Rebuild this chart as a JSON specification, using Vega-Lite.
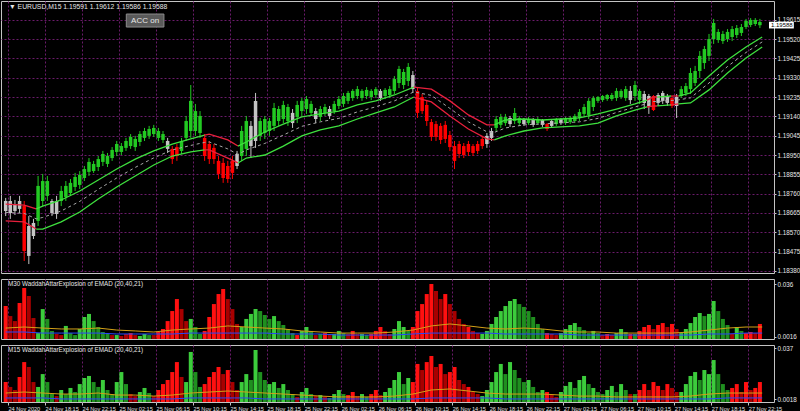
{
"$schema":"https://vega.github.io/schema/vega-lite/v6.json",
"background":"#000000",
"padding":0,
"spacing":3,
"config":{
 "font":"Liberation Sans, sans-serif",
 "view":{"stroke":"#c4c4c4","strokeWidth":1},
 "axis":{"labelColor":"#e6e6e6","labelFont":"Liberation Sans, sans-serif","labelFontSize":6.3,"gridColor":"#6a1b6a","gridDash":[2,2],"gridWidth":1,"gridOpacity":1,"tickColor":"#c4c4c4","domain":false,"title":null,"minExtent":0,"labelOverlap":false,"labelFlush":false,"tickCount":60}
},
"datasets":{
"c":[
{"t":"2020-11-24T14:00Z","o":1.18724,"h":1.18739,"l":1.18650,"c":1.18675,"s":"n","a":0.0217,"ac":"R","b":0.0138,"bc":"R"},
{"t":"2020-11-24T14:30Z","o":1.18665,"h":1.18749,"l":1.18636,"c":1.18724,"s":"n","a":0.0151,"ac":"r","b":0.0104,"bc":"r"},
{"t":"2020-11-24T15:00Z","o":1.18709,"h":1.18729,"l":1.18655,"c":1.18675,"s":"n","a":0.0118,"ac":"r","b":0.0083,"bc":"r"},
{"t":"2020-11-24T15:30Z","o":1.18685,"h":1.18749,"l":1.18665,"c":1.18724,"s":"n","a":0.0237,"ac":"R","b":0.0173,"bc":"R"},
{"t":"2020-11-24T16:00Z","o":1.18699,"h":1.18724,"l":1.18429,"c":1.18478,"s":"r","a":0.0336,"ac":"R","b":0.0276,"bc":"R"},
{"t":"2020-11-24T16:30Z","o":1.18454,"h":1.18650,"l":1.18414,"c":1.18601,"s":"n","a":0.0283,"ac":"r","b":0.0242,"bc":"r"},
{"t":"2020-11-24T17:00Z","o":1.18552,"h":1.18636,"l":1.18537,"c":1.18616,"s":"n","a":0.0138,"ac":"r","b":0.0138,"bc":"r"},
{"t":"2020-11-24T17:30Z","o":1.18626,"h":1.18847,"l":1.18601,"c":1.18798,"s":"g","a":0.0039,"ac":"G","b":0.0104,"bc":"G"},
{"t":"2020-11-24T18:00Z","o":1.18724,"h":1.18857,"l":1.18699,"c":1.18822,"s":"g","a":0.0197,"ac":"G","b":0.0193,"bc":"G"},
{"t":"2020-11-24T18:30Z","o":1.18749,"h":1.18847,"l":1.18724,"c":1.18822,"s":"g","a":0.0132,"ac":"g","b":0.0138,"bc":"g"},
{"t":"2020-11-24T19:00Z","o":1.18724,"h":1.18734,"l":1.18650,"c":1.18665,"s":"n","a":0.0053,"ac":"g","b":0.0055,"bc":"g"},
{"t":"2020-11-24T19:30Z","o":1.18660,"h":1.18749,"l":1.18636,"c":1.18724,"s":"n","a":0.0033,"ac":"r","b":0.0041,"bc":"r"},
{"t":"2020-11-24T20:00Z","o":1.18724,"h":1.18798,"l":1.18699,"c":1.18773,"s":"g","a":0.0026,"ac":"r","b":0.0083,"bc":"G"},
{"t":"2020-11-24T20:30Z","o":1.18744,"h":1.18822,"l":1.18724,"c":1.18798,"s":"g","a":0.0086,"ac":"G","b":0.0055,"bc":"g"},
{"t":"2020-11-24T21:00Z","o":1.18763,"h":1.18832,"l":1.18749,"c":1.18813,"s":"g","a":0.0039,"ac":"g","b":0.0097,"bc":"G"},
{"t":"2020-11-24T21:30Z","o":1.18793,"h":1.18862,"l":1.18773,"c":1.18842,"s":"g","a":0.0026,"ac":"g","b":0.0069,"bc":"g"},
{"t":"2020-11-24T22:00Z","o":1.18803,"h":1.18871,"l":1.18783,"c":1.18852,"s":"g","a":0.0066,"ac":"G","b":0.0124,"bc":"G"},
{"t":"2020-11-24T22:30Z","o":1.18837,"h":1.18896,"l":1.18822,"c":1.18881,"s":"g","a":0.0145,"ac":"G","b":0.0166,"bc":"G"},
{"t":"2020-11-24T23:00Z","o":1.18867,"h":1.18935,"l":1.18847,"c":1.18916,"s":"g","a":0.0165,"ac":"G","b":0.0180,"bc":"G"},
{"t":"2020-11-24T23:30Z","o":1.18871,"h":1.18921,"l":1.18862,"c":1.18906,"s":"g","a":0.0118,"ac":"g","b":0.0138,"bc":"g"},
{"t":"2020-11-25T00:00Z","o":1.18891,"h":1.18945,"l":1.18871,"c":1.18930,"s":"g","a":0.0079,"ac":"g","b":0.0104,"bc":"g"},
{"t":"2020-11-25T00:30Z","o":1.18916,"h":1.18970,"l":1.18896,"c":1.18955,"s":"g","a":0.0046,"ac":"g","b":0.0152,"bc":"G"},
{"t":"2020-11-25T01:00Z","o":1.18906,"h":1.18960,"l":1.18891,"c":1.18945,"s":"g","a":0.0033,"ac":"g","b":0.0083,"bc":"g"},
{"t":"2020-11-25T01:30Z","o":1.18935,"h":1.18989,"l":1.18921,"c":1.18975,"s":"g","a":0.0026,"ac":"r","b":0.0055,"bc":"g"},
{"t":"2020-11-25T02:00Z","o":1.18965,"h":1.19019,"l":1.18945,"c":1.19004,"s":"g","a":0.0026,"ac":"G","b":0.0138,"bc":"G"},
{"t":"2020-11-25T02:30Z","o":1.18965,"h":1.19009,"l":1.18950,"c":1.18994,"s":"g","a":0.0020,"ac":"r","b":0.0207,"bc":"G"},
{"t":"2020-11-25T03:00Z","o":1.18985,"h":1.19034,"l":1.18970,"c":1.19019,"s":"g","a":0.0033,"ac":"r","b":0.0124,"bc":"g"},
{"t":"2020-11-25T03:30Z","o":1.18994,"h":1.19053,"l":1.18980,"c":1.19039,"s":"g","a":0.0039,"ac":"R","b":0.0055,"bc":"r"},
{"t":"2020-11-25T04:00Z","o":1.18989,"h":1.19044,"l":1.18970,"c":1.19029,"s":"g","a":0.0026,"ac":"r","b":0.0041,"bc":"r"},
{"t":"2020-11-25T04:30Z","o":1.19014,"h":1.19068,"l":1.18994,"c":1.19053,"s":"g","a":0.0020,"ac":"G","b":0.0069,"bc":"G"},
{"t":"2020-11-25T05:00Z","o":1.19034,"h":1.19083,"l":1.19019,"c":1.19068,"s":"g","a":0.0033,"ac":"G","b":0.0097,"bc":"G"},
{"t":"2020-11-25T05:30Z","o":1.19044,"h":1.19093,"l":1.19029,"c":1.19078,"s":"g","a":0.0026,"ac":"g","b":0.0062,"bc":"g"},
{"t":"2020-11-25T06:00Z","o":1.19053,"h":1.19098,"l":1.19039,"c":1.19083,"s":"g","a":0.0026,"ac":"r","b":0.0041,"bc":"r"},
{"t":"2020-11-25T06:30Z","o":1.19034,"h":1.19083,"l":1.19019,"c":1.19068,"s":"g","a":0.0046,"ac":"R","b":0.0083,"bc":"R"},
{"t":"2020-11-25T07:00Z","o":1.19024,"h":1.19068,"l":1.19009,"c":1.19053,"s":"g","a":0.0066,"ac":"R","b":0.0124,"bc":"R"},
{"t":"2020-11-25T07:30Z","o":1.19019,"h":1.19034,"l":1.18960,"c":1.18980,"s":"n","a":0.0118,"ac":"R","b":0.0152,"bc":"R"},
{"t":"2020-11-25T08:00Z","o":1.18980,"h":1.18994,"l":1.18906,"c":1.18930,"s":"r","a":0.0184,"ac":"R","b":0.0207,"bc":"R"},
{"t":"2020-11-25T08:30Z","o":1.18989,"h":1.19004,"l":1.18921,"c":1.18945,"s":"r","a":0.0263,"ac":"R","b":0.0276,"bc":"R"},
{"t":"2020-11-25T09:00Z","o":1.18970,"h":1.19034,"l":1.18955,"c":1.19019,"s":"g","a":0.0197,"ac":"r","b":0.0173,"bc":"r"},
{"t":"2020-11-25T09:30Z","o":1.19034,"h":1.19142,"l":1.19019,"c":1.19117,"s":"g","a":0.0118,"ac":"r","b":0.0138,"bc":"G"},
{"t":"2020-11-25T10:00Z","o":1.19068,"h":1.19294,"l":1.19034,"c":1.19216,"s":"g","a":0.0132,"ac":"G","b":0.0346,"bc":"G"},
{"t":"2020-11-25T10:30Z","o":1.19068,"h":1.19201,"l":1.19044,"c":1.19166,"s":"g","a":0.0079,"ac":"g","b":0.0207,"bc":"g"},
{"t":"2020-11-25T11:00Z","o":1.19058,"h":1.19166,"l":1.19034,"c":1.19142,"s":"g","a":0.0033,"ac":"g","b":0.0104,"bc":"g"},
{"t":"2020-11-25T11:30Z","o":1.19034,"h":1.19053,"l":1.18921,"c":1.18945,"s":"r","a":0.0053,"ac":"R","b":0.0124,"bc":"R"},
{"t":"2020-11-25T12:00Z","o":1.19004,"h":1.19019,"l":1.18906,"c":1.18930,"s":"r","a":0.0145,"ac":"R","b":0.0173,"bc":"R"},
{"t":"2020-11-25T12:30Z","o":1.18985,"h":1.19004,"l":1.18906,"c":1.18930,"s":"r","a":0.0230,"ac":"R","b":0.0207,"bc":"R"},
{"t":"2020-11-25T13:00Z","o":1.18921,"h":1.18945,"l":1.18832,"c":1.18857,"s":"r","a":0.0296,"ac":"R","b":0.0242,"bc":"R"},
{"t":"2020-11-25T13:30Z","o":1.18911,"h":1.18935,"l":1.18813,"c":1.18837,"s":"r","a":0.0329,"ac":"R","b":0.0193,"bc":"r"},
{"t":"2020-11-25T14:00Z","o":1.18896,"h":1.18921,"l":1.18813,"c":1.18832,"s":"r","a":0.0263,"ac":"r","b":0.0221,"bc":"R"},
{"t":"2020-11-25T14:30Z","o":1.18921,"h":1.18945,"l":1.18832,"c":1.18862,"s":"r","a":0.0197,"ac":"r","b":0.0138,"bc":"r"},
{"t":"2020-11-25T15:00Z","o":1.18896,"h":1.18970,"l":1.18881,"c":1.18955,"s":"n","a":0.0099,"ac":"r","b":0.0083,"bc":"r"},
{"t":"2020-11-25T15:30Z","o":1.18945,"h":1.19093,"l":1.18921,"c":1.19068,"s":"g","a":0.0079,"ac":"G","b":0.0138,"bc":"G"},
{"t":"2020-11-25T16:00Z","o":1.18980,"h":1.19142,"l":1.18945,"c":1.19117,"s":"g","a":0.0132,"ac":"G","b":0.0193,"bc":"G"},
{"t":"2020-11-25T16:30Z","o":1.19093,"h":1.19117,"l":1.18935,"c":1.18994,"s":"n","a":0.0165,"ac":"G","b":0.0152,"bc":"g"},
{"t":"2020-11-25T17:00Z","o":1.19019,"h":1.19255,"l":1.18985,"c":1.19216,"s":"n","a":0.0197,"ac":"G","b":0.0359,"bc":"G"},
{"t":"2020-11-25T17:30Z","o":1.19044,"h":1.19132,"l":1.19019,"c":1.19117,"s":"g","a":0.0184,"ac":"g","b":0.0207,"bc":"g"},
{"t":"2020-11-25T18:00Z","o":1.19058,"h":1.19142,"l":1.19029,"c":1.19127,"s":"g","a":0.0158,"ac":"g","b":0.0152,"bc":"g"},
{"t":"2020-11-25T18:30Z","o":1.19068,"h":1.19132,"l":1.19044,"c":1.19117,"s":"g","a":0.0132,"ac":"g","b":0.0124,"bc":"G"},
{"t":"2020-11-25T19:00Z","o":1.19093,"h":1.19206,"l":1.19068,"c":1.19181,"s":"g","a":0.0151,"ac":"G","b":0.0138,"bc":"G"},
{"t":"2020-11-25T19:30Z","o":1.19117,"h":1.19191,"l":1.19093,"c":1.19176,"s":"g","a":0.0118,"ac":"g","b":0.0097,"bc":"g"},
{"t":"2020-11-25T20:00Z","o":1.19127,"h":1.19216,"l":1.19107,"c":1.19196,"s":"g","a":0.0092,"ac":"g","b":0.0124,"bc":"G"},
{"t":"2020-11-25T20:30Z","o":1.19117,"h":1.19201,"l":1.19093,"c":1.19186,"s":"g","a":0.0066,"ac":"g","b":0.0083,"bc":"g"},
{"t":"2020-11-25T21:00Z","o":1.19157,"h":1.19176,"l":1.19083,"c":1.19107,"s":"n","a":0.0039,"ac":"g","b":0.0055,"bc":"g"},
{"t":"2020-11-25T21:30Z","o":1.19137,"h":1.19216,"l":1.19107,"c":1.19196,"s":"g","a":0.0026,"ac":"R","b":0.0035,"bc":"r"},
{"t":"2020-11-25T22:00Z","o":1.19166,"h":1.19230,"l":1.19142,"c":1.19216,"s":"g","a":0.0053,"ac":"G","b":0.0069,"bc":"G"},
{"t":"2020-11-25T22:30Z","o":1.19176,"h":1.19240,"l":1.19152,"c":1.19225,"s":"g","a":0.0079,"ac":"G","b":0.0097,"bc":"G"},
{"t":"2020-11-25T23:00Z","o":1.19157,"h":1.19216,"l":1.19142,"c":1.19201,"s":"g","a":0.0053,"ac":"g","b":0.0055,"bc":"g"},
{"t":"2020-11-25T23:30Z","o":1.19166,"h":1.19181,"l":1.19107,"c":1.19127,"s":"n","a":0.0026,"ac":"r","b":0.0041,"bc":"r"},
{"t":"2020-11-26T00:00Z","o":1.19137,"h":1.19191,"l":1.19117,"c":1.19176,"s":"g","a":0.0033,"ac":"g","b":0.0048,"bc":"G"},
{"t":"2020-11-26T00:30Z","o":1.19157,"h":1.19201,"l":1.19142,"c":1.19186,"s":"g","a":0.0039,"ac":"R","b":0.0035,"bc":"r"},
{"t":"2020-11-26T01:00Z","o":1.19176,"h":1.19191,"l":1.19127,"c":1.19142,"s":"n","a":0.0026,"ac":"r","b":0.0028,"bc":"g"},
{"t":"2020-11-26T01:30Z","o":1.19166,"h":1.19216,"l":1.19152,"c":1.19201,"s":"g","a":0.0033,"ac":"G","b":0.0055,"bc":"G"},
{"t":"2020-11-26T02:00Z","o":1.19191,"h":1.19240,"l":1.19176,"c":1.19225,"s":"g","a":0.0053,"ac":"G","b":0.0083,"bc":"G"},
{"t":"2020-11-26T02:30Z","o":1.19201,"h":1.19255,"l":1.19186,"c":1.19240,"s":"g","a":0.0039,"ac":"g","b":0.0055,"bc":"g"},
{"t":"2020-11-26T03:00Z","o":1.19216,"h":1.19265,"l":1.19201,"c":1.19255,"s":"g","a":0.0033,"ac":"r","b":0.0048,"bc":"R"},
{"t":"2020-11-26T03:30Z","o":1.19230,"h":1.19274,"l":1.19216,"c":1.19265,"s":"g","a":0.0053,"ac":"R","b":0.0069,"bc":"R"},
{"t":"2020-11-26T04:00Z","o":1.19240,"h":1.19289,"l":1.19225,"c":1.19274,"s":"g","a":0.0033,"ac":"r","b":0.0041,"bc":"r"},
{"t":"2020-11-26T04:30Z","o":1.19230,"h":1.19274,"l":1.19216,"c":1.19265,"s":"g","a":0.0033,"ac":"G","b":0.0055,"bc":"G"},
{"t":"2020-11-26T05:00Z","o":1.19240,"h":1.19284,"l":1.19225,"c":1.19270,"s":"g","a":0.0026,"ac":"g","b":0.0035,"bc":"g"},
{"t":"2020-11-26T05:30Z","o":1.19235,"h":1.19274,"l":1.19220,"c":1.19265,"s":"g","a":0.0033,"ac":"R","b":0.0055,"bc":"R"},
{"t":"2020-11-26T06:00Z","o":1.19245,"h":1.19284,"l":1.19230,"c":1.19274,"s":"g","a":0.0053,"ac":"R","b":0.0083,"bc":"R"},
{"t":"2020-11-26T06:30Z","o":1.19265,"h":1.19274,"l":1.19216,"c":1.19230,"s":"n","a":0.0079,"ac":"R","b":0.0048,"bc":"r"},
{"t":"2020-11-26T07:00Z","o":1.19240,"h":1.19279,"l":1.19225,"c":1.19270,"s":"g","a":0.0053,"ac":"r","b":0.0069,"bc":"G"},
{"t":"2020-11-26T07:30Z","o":1.19245,"h":1.19289,"l":1.19230,"c":1.19274,"s":"g","a":0.0033,"ac":"r","b":0.0097,"bc":"G"},
{"t":"2020-11-26T08:00Z","o":1.19265,"h":1.19338,"l":1.19250,"c":1.19324,"s":"g","a":0.0066,"ac":"G","b":0.0152,"bc":"G"},
{"t":"2020-11-26T08:30Z","o":1.19304,"h":1.19388,"l":1.19279,"c":1.19373,"s":"g","a":0.0118,"ac":"G","b":0.0207,"bc":"G"},
{"t":"2020-11-26T09:00Z","o":1.19294,"h":1.19373,"l":1.19274,"c":1.19358,"s":"g","a":0.0079,"ac":"G","b":0.0124,"bc":"g"},
{"t":"2020-11-26T09:30Z","o":1.19314,"h":1.19402,"l":1.19289,"c":1.19383,"s":"g","a":0.0053,"ac":"g","b":0.0166,"bc":"G"},
{"t":"2020-11-26T10:00Z","o":1.19343,"h":1.19363,"l":1.19255,"c":1.19274,"s":"n","a":0.0079,"ac":"R","b":0.0138,"bc":"R"},
{"t":"2020-11-26T10:30Z","o":1.19265,"h":1.19279,"l":1.19132,"c":1.19157,"s":"r","a":0.0184,"ac":"R","b":0.0263,"bc":"R"},
{"t":"2020-11-26T11:00Z","o":1.19235,"h":1.19250,"l":1.19152,"c":1.19166,"s":"r","a":0.0230,"ac":"R","b":0.0221,"bc":"r"},
{"t":"2020-11-26T11:30Z","o":1.19196,"h":1.19216,"l":1.19093,"c":1.19117,"s":"r","a":0.0296,"ac":"R","b":0.0276,"bc":"R"},
{"t":"2020-11-26T12:00Z","o":1.19112,"h":1.19127,"l":1.19019,"c":1.19039,"s":"r","a":0.0362,"ac":"R","b":0.0318,"bc":"R"},
{"t":"2020-11-26T12:30Z","o":1.19102,"h":1.19117,"l":1.19019,"c":1.19039,"s":"r","a":0.0316,"ac":"r","b":0.0242,"bc":"r"},
{"t":"2020-11-26T13:00Z","o":1.19093,"h":1.19107,"l":1.19004,"c":1.19024,"s":"r","a":0.0263,"ac":"r","b":0.0263,"bc":"R"},
{"t":"2020-11-26T13:30Z","o":1.19098,"h":1.19117,"l":1.19009,"c":1.19029,"s":"r","a":0.0296,"ac":"R","b":0.0193,"bc":"r"},
{"t":"2020-11-26T14:00Z","o":1.19048,"h":1.19068,"l":1.18970,"c":1.18989,"s":"r","a":0.0230,"ac":"r","b":0.0207,"bc":"R"},
{"t":"2020-11-26T14:30Z","o":1.18994,"h":1.19019,"l":1.18881,"c":1.18921,"s":"r","a":0.0184,"ac":"r","b":0.0242,"bc":"R"},
{"t":"2020-11-26T15:00Z","o":1.19004,"h":1.19019,"l":1.18935,"c":1.18955,"s":"r","a":0.0132,"ac":"r","b":0.0152,"bc":"r"},
{"t":"2020-11-26T15:30Z","o":1.18994,"h":1.19009,"l":1.18935,"c":1.18950,"s":"r","a":0.0099,"ac":"r","b":0.0124,"bc":"r"},
{"t":"2020-11-26T16:00Z","o":1.19004,"h":1.19019,"l":1.18945,"c":1.18965,"s":"r","a":0.0079,"ac":"R","b":0.0104,"bc":"R"},
{"t":"2020-11-26T16:30Z","o":1.18994,"h":1.19004,"l":1.18945,"c":1.18960,"s":"r","a":0.0053,"ac":"r","b":0.0069,"bc":"r"},
{"t":"2020-11-26T17:00Z","o":1.19004,"h":1.19019,"l":1.18955,"c":1.18970,"s":"r","a":0.0039,"ac":"r","b":0.0055,"bc":"r"},
{"t":"2020-11-26T17:30Z","o":1.19029,"h":1.19044,"l":1.18980,"c":1.18994,"s":"r","a":0.0033,"ac":"G","b":0.0041,"bc":"G"},
{"t":"2020-11-26T18:00Z","o":1.19004,"h":1.19058,"l":1.18985,"c":1.19044,"s":"n","a":0.0053,"ac":"G","b":0.0083,"bc":"G"},
{"t":"2020-11-26T18:30Z","o":1.19034,"h":1.19083,"l":1.19019,"c":1.19068,"s":"n","a":0.0099,"ac":"G","b":0.0138,"bc":"G"},
{"t":"2020-11-26T19:00Z","o":1.19083,"h":1.19142,"l":1.19068,"c":1.19127,"s":"g","a":0.0145,"ac":"G","b":0.0207,"bc":"G"},
{"t":"2020-11-26T19:30Z","o":1.19098,"h":1.19152,"l":1.19083,"c":1.19137,"s":"g","a":0.0184,"ac":"G","b":0.0263,"bc":"G"},
{"t":"2020-11-26T20:00Z","o":1.19107,"h":1.19152,"l":1.19093,"c":1.19137,"s":"g","a":0.0217,"ac":"G","b":0.0193,"bc":"g"},
{"t":"2020-11-26T20:30Z","o":1.19132,"h":1.19142,"l":1.19088,"c":1.19102,"s":"n","a":0.0250,"ac":"G","b":0.0276,"bc":"G"},
{"t":"2020-11-26T21:00Z","o":1.19117,"h":1.19181,"l":1.19102,"c":1.19157,"s":"g","a":0.0263,"ac":"G","b":0.0221,"bc":"g"},
{"t":"2020-11-26T21:30Z","o":1.19107,"h":1.19142,"l":1.19098,"c":1.19132,"s":"g","a":0.0230,"ac":"g","b":0.0166,"bc":"g"},
{"t":"2020-11-26T22:00Z","o":1.19127,"h":1.19132,"l":1.19093,"c":1.19102,"s":"n","a":0.0211,"ac":"g","b":0.0138,"bc":"g"},
{"t":"2020-11-26T22:30Z","o":1.19107,"h":1.19137,"l":1.19098,"c":1.19127,"s":"g","a":0.0184,"ac":"g","b":0.0152,"bc":"G"},
{"t":"2020-11-26T23:00Z","o":1.19122,"h":1.19132,"l":1.19088,"c":1.19098,"s":"n","a":0.0145,"ac":"g","b":0.0104,"bc":"g"},
{"t":"2020-11-26T23:30Z","o":1.19107,"h":1.19137,"l":1.19098,"c":1.19127,"s":"g","a":0.0099,"ac":"g","b":0.0069,"bc":"g"},
{"t":"2020-11-27T00:00Z","o":1.19098,"h":1.19127,"l":1.19088,"c":1.19122,"s":"n","a":0.0066,"ac":"g","b":0.0083,"bc":"G"},
{"t":"2020-11-27T00:30Z","o":1.19102,"h":1.19107,"l":1.19068,"c":1.19078,"s":"r","a":0.0039,"ac":"R","b":0.0069,"bc":"R"},
{"t":"2020-11-27T01:00Z","o":1.19093,"h":1.19127,"l":1.19083,"c":1.19117,"s":"n","a":0.0033,"ac":"r","b":0.0048,"bc":"r"},
{"t":"2020-11-27T01:30Z","o":1.19102,"h":1.19132,"l":1.19093,"c":1.19122,"s":"g","a":0.0026,"ac":"r","b":0.0035,"bc":"r"},
{"t":"2020-11-27T02:00Z","o":1.19127,"h":1.19132,"l":1.19098,"c":1.19107,"s":"n","a":0.0039,"ac":"G","b":0.0069,"bc":"G"},
{"t":"2020-11-27T02:30Z","o":1.19107,"h":1.19137,"l":1.19098,"c":1.19127,"s":"g","a":0.0066,"ac":"G","b":0.0111,"bc":"G"},
{"t":"2020-11-27T03:00Z","o":1.19112,"h":1.19142,"l":1.19102,"c":1.19132,"s":"g","a":0.0092,"ac":"G","b":0.0138,"bc":"G"},
{"t":"2020-11-27T03:30Z","o":1.19117,"h":1.19152,"l":1.19107,"c":1.19142,"s":"g","a":0.0105,"ac":"G","b":0.0097,"bc":"g"},
{"t":"2020-11-27T04:00Z","o":1.19132,"h":1.19176,"l":1.19117,"c":1.19161,"s":"g","a":0.0079,"ac":"g","b":0.0152,"bc":"G"},
{"t":"2020-11-27T04:30Z","o":1.19152,"h":1.19201,"l":1.19137,"c":1.19186,"s":"g","a":0.0059,"ac":"g","b":0.0180,"bc":"G"},
{"t":"2020-11-27T05:00Z","o":1.19147,"h":1.19230,"l":1.19127,"c":1.19216,"s":"g","a":0.0039,"ac":"g","b":0.0124,"bc":"g"},
{"t":"2020-11-27T05:30Z","o":1.19186,"h":1.19240,"l":1.19166,"c":1.19230,"s":"g","a":0.0053,"ac":"G","b":0.0097,"bc":"G"},
{"t":"2020-11-27T06:00Z","o":1.19216,"h":1.19240,"l":1.19206,"c":1.19235,"s":"g","a":0.0039,"ac":"g","b":0.0069,"bc":"g"},
{"t":"2020-11-27T06:30Z","o":1.19220,"h":1.19245,"l":1.19211,"c":1.19240,"s":"g","a":0.0026,"ac":"r","b":0.0055,"bc":"g"},
{"t":"2020-11-27T07:00Z","o":1.19225,"h":1.19250,"l":1.19216,"c":1.19245,"s":"g","a":0.0033,"ac":"R","b":0.0083,"bc":"G"},
{"t":"2020-11-27T07:30Z","o":1.19225,"h":1.19255,"l":1.19216,"c":1.19245,"s":"g","a":0.0026,"ac":"r","b":0.0111,"bc":"G"},
{"t":"2020-11-27T08:00Z","o":1.19230,"h":1.19279,"l":1.19216,"c":1.19265,"s":"g","a":0.0039,"ac":"G","b":0.0069,"bc":"g"},
{"t":"2020-11-27T08:30Z","o":1.19235,"h":1.19274,"l":1.19225,"c":1.19265,"s":"g","a":0.0066,"ac":"G","b":0.0124,"bc":"G"},
{"t":"2020-11-27T09:00Z","o":1.19230,"h":1.19289,"l":1.19216,"c":1.19274,"s":"g","a":0.0046,"ac":"g","b":0.0083,"bc":"g"},
{"t":"2020-11-27T09:30Z","o":1.19265,"h":1.19289,"l":1.19201,"c":1.19220,"s":"n","a":0.0033,"ac":"R","b":0.0055,"bc":"r"},
{"t":"2020-11-27T10:00Z","o":1.19240,"h":1.19314,"l":1.19216,"c":1.19294,"s":"g","a":0.0033,"ac":"g","b":0.0055,"bc":"g"},
{"t":"2020-11-27T10:30Z","o":1.19220,"h":1.19274,"l":1.19201,"c":1.19265,"s":"g","a":0.0053,"ac":"R","b":0.0083,"bc":"R"},
{"t":"2020-11-27T11:00Z","o":1.19250,"h":1.19265,"l":1.19176,"c":1.19206,"s":"n","a":0.0079,"ac":"R","b":0.0124,"bc":"R"},
{"t":"2020-11-27T11:30Z","o":1.19191,"h":1.19250,"l":1.19152,"c":1.19240,"s":"n","a":0.0092,"ac":"R","b":0.0083,"bc":"r"},
{"t":"2020-11-27T12:00Z","o":1.19240,"h":1.19245,"l":1.19166,"c":1.19171,"s":"r","a":0.0066,"ac":"r","b":0.0138,"bc":"R"},
{"t":"2020-11-27T12:30Z","o":1.19206,"h":1.19255,"l":1.19191,"c":1.19245,"s":"n","a":0.0092,"ac":"R","b":0.0111,"bc":"R"},
{"t":"2020-11-27T13:00Z","o":1.19255,"h":1.19265,"l":1.19201,"c":1.19216,"s":"n","a":0.0105,"ac":"R","b":0.0083,"bc":"r"},
{"t":"2020-11-27T13:30Z","o":1.19206,"h":1.19250,"l":1.19191,"c":1.19240,"s":"n","a":0.0079,"ac":"r","b":0.0124,"bc":"R"},
{"t":"2020-11-27T14:00Z","o":1.19230,"h":1.19240,"l":1.19181,"c":1.19191,"s":"r","a":0.0099,"ac":"R","b":0.0097,"bc":"r"},
{"t":"2020-11-27T14:30Z","o":1.19191,"h":1.19250,"l":1.19132,"c":1.19235,"s":"n","a":0.0066,"ac":"r","b":0.0069,"bc":"r"},
{"t":"2020-11-27T15:00Z","o":1.19240,"h":1.19289,"l":1.19230,"c":1.19274,"s":"g","a":0.0039,"ac":"G","b":0.0069,"bc":"G"},
{"t":"2020-11-27T15:30Z","o":1.19255,"h":1.19304,"l":1.19240,"c":1.19289,"s":"g","a":0.0066,"ac":"G","b":0.0124,"bc":"G"},
{"t":"2020-11-27T16:00Z","o":1.19274,"h":1.19378,"l":1.19250,"c":1.19353,"s":"g","a":0.0105,"ac":"G","b":0.0180,"bc":"G"},
{"t":"2020-11-27T16:30Z","o":1.19304,"h":1.19388,"l":1.19289,"c":1.19363,"s":"g","a":0.0145,"ac":"G","b":0.0207,"bc":"G"},
{"t":"2020-11-27T17:00Z","o":1.19363,"h":1.19461,"l":1.19329,"c":1.19437,"s":"g","a":0.0171,"ac":"G","b":0.0152,"bc":"g"},
{"t":"2020-11-27T17:30Z","o":1.19402,"h":1.19486,"l":1.19373,"c":1.19471,"s":"g","a":0.0151,"ac":"g","b":0.0221,"bc":"G"},
{"t":"2020-11-27T18:00Z","o":1.19437,"h":1.19545,"l":1.19412,"c":1.19520,"s":"g","a":0.0165,"ac":"G","b":0.0193,"bc":"G"},
{"t":"2020-11-27T18:30Z","o":1.19520,"h":1.19619,"l":1.19496,"c":1.19599,"s":"g","a":0.0250,"ac":"G","b":0.0290,"bc":"G"},
{"t":"2020-11-27T19:00Z","o":1.19515,"h":1.19569,"l":1.19501,"c":1.19555,"s":"g","a":0.0184,"ac":"g","b":0.0193,"bc":"g"},
{"t":"2020-11-27T19:30Z","o":1.19510,"h":1.19560,"l":1.19496,"c":1.19545,"s":"g","a":0.0132,"ac":"g","b":0.0124,"bc":"g"},
{"t":"2020-11-27T20:00Z","o":1.19520,"h":1.19569,"l":1.19506,"c":1.19555,"s":"g","a":0.0092,"ac":"g","b":0.0083,"bc":"g"},
{"t":"2020-11-27T20:30Z","o":1.19530,"h":1.19584,"l":1.19510,"c":1.19569,"s":"g","a":0.0033,"ac":"r","b":0.0097,"bc":"R"},
{"t":"2020-11-27T21:00Z","o":1.19540,"h":1.19589,"l":1.19525,"c":1.19574,"s":"g","a":0.0079,"ac":"G","b":0.0124,"bc":"R"},
{"t":"2020-11-27T21:30Z","o":1.19550,"h":1.19594,"l":1.19535,"c":1.19579,"s":"g","a":0.0053,"ac":"g","b":0.0069,"bc":"r"},
{"t":"2020-11-27T22:00Z","o":1.19579,"h":1.19619,"l":1.19569,"c":1.19609,"s":"g","a":0.0039,"ac":"R","b":0.0138,"bc":"R"},
{"t":"2020-11-27T22:30Z","o":1.19589,"h":1.19623,"l":1.19579,"c":1.19614,"s":"g","a":0.0046,"ac":"R","b":0.0083,"bc":"r"},
{"t":"2020-11-27T23:00Z","o":1.19594,"h":1.19623,"l":1.19584,"c":1.19614,"s":"g","a":0.0039,"ac":"r","b":0.0097,"bc":"R"},
{"t":"2020-11-27T23:30Z","o":1.19604,"h":1.19619,"l":1.19574,"c":1.19588,"s":"g","a":0.0099,"ac":"R","b":0.0138,"bc":"R"}
],
"bd":[
{"t":"2020-11-24T14:00Z","u":1.18709,"l":1.18626,"m":1.18668,"tr":"r","g":"r1"},
{"t":"2020-11-24T16:00Z","u":1.18704,"l":1.18621,"m":1.18663,"tr":"r","g":"r1"},
{"t":"2020-11-24T17:18Z","u":1.18685,"l":1.18586,"m":1.18636,"tr":"r","g":"r1"},
{"t":"2020-11-24T17:18Z","u":1.18685,"l":1.18586,"m":1.18636,"tr":"g","g":"g1"},
{"t":"2020-11-24T18:00Z","u":1.18699,"l":1.18586,"m":1.18643,"tr":"g","g":"g1"},
{"t":"2020-11-24T20:00Z","u":1.18729,"l":1.18621,"m":1.18675,"tr":"g","g":"g1"},
{"t":"2020-11-24T22:00Z","u":1.18773,"l":1.18670,"m":1.18722,"tr":"g","g":"g1"},
{"t":"2020-11-25T00:00Z","u":1.18827,"l":1.18734,"m":1.18781,"tr":"g","g":"g1"},
{"t":"2020-11-25T02:00Z","u":1.18881,"l":1.18793,"m":1.18837,"tr":"g","g":"g1"},
{"t":"2020-11-25T04:00Z","u":1.18930,"l":1.18847,"m":1.18889,"tr":"g","g":"g1"},
{"t":"2020-11-25T06:00Z","u":1.18970,"l":1.18901,"m":1.18936,"tr":"g","g":"g1"},
{"t":"2020-11-25T08:00Z","u":1.19004,"l":1.18945,"m":1.18975,"tr":"g","g":"g1"},
{"t":"2020-11-25T10:00Z","u":1.19029,"l":1.18965,"m":1.18997,"tr":"g","g":"g1"},
{"t":"2020-11-25T11:30Z","u":1.19048,"l":1.18975,"m":1.19012,"tr":"g","g":"g1"},
{"t":"2020-11-25T11:30Z","u":1.19048,"l":1.18975,"m":1.19012,"tr":"r","g":"r2"},
{"t":"2020-11-25T12:00Z","u":1.19053,"l":1.18975,"m":1.19014,"tr":"r","g":"r2"},
{"t":"2020-11-25T14:00Z","u":1.19024,"l":1.18935,"m":1.18980,"tr":"r","g":"r2"},
{"t":"2020-11-25T15:06Z","u":1.18994,"l":1.18911,"m":1.18953,"tr":"r","g":"r2"},
{"t":"2020-11-25T15:06Z","u":1.18994,"l":1.18911,"m":1.18953,"tr":"g","g":"g2"},
{"t":"2020-11-25T16:00Z","u":1.19014,"l":1.18935,"m":1.18975,"tr":"g","g":"g2"},
{"t":"2020-11-25T18:00Z","u":1.19063,"l":1.18950,"m":1.19007,"tr":"g","g":"g2"},
{"t":"2020-11-25T20:00Z","u":1.19102,"l":1.18994,"m":1.19048,"tr":"g","g":"g2"},
{"t":"2020-11-25T22:00Z","u":1.19137,"l":1.19044,"m":1.19091,"tr":"g","g":"g2"},
{"t":"2020-11-26T00:00Z","u":1.19152,"l":1.19073,"m":1.19113,"tr":"g","g":"g2"},
{"t":"2020-11-26T02:00Z","u":1.19166,"l":1.19093,"m":1.19130,"tr":"g","g":"g2"},
{"t":"2020-11-26T04:00Z","u":1.19196,"l":1.19127,"m":1.19162,"tr":"g","g":"g2"},
{"t":"2020-11-26T06:00Z","u":1.19216,"l":1.19157,"m":1.19187,"tr":"g","g":"g2"},
{"t":"2020-11-26T08:00Z","u":1.19245,"l":1.19186,"m":1.19216,"tr":"g","g":"g2"},
{"t":"2020-11-26T10:06Z","u":1.19284,"l":1.19235,"m":1.19260,"tr":"g","g":"g2"},
{"t":"2020-11-26T10:06Z","u":1.19284,"l":1.19235,"m":1.19260,"tr":"r","g":"r3"},
{"t":"2020-11-26T12:00Z","u":1.19274,"l":1.19211,"m":1.19243,"tr":"r","g":"r3"},
{"t":"2020-11-26T14:00Z","u":1.19216,"l":1.19142,"m":1.19179,"tr":"r","g":"r3"},
{"t":"2020-11-26T16:00Z","u":1.19147,"l":1.19078,"m":1.19113,"tr":"r","g":"r3"},
{"t":"2020-11-26T18:00Z","u":1.19098,"l":1.19029,"m":1.19064,"tr":"r","g":"r3"},
{"t":"2020-11-26T18:48Z","u":1.19098,"l":1.19024,"m":1.19061,"tr":"r","g":"r3"},
{"t":"2020-11-26T18:48Z","u":1.19098,"l":1.19024,"m":1.19061,"tr":"g","g":"g3"},
{"t":"2020-11-26T20:00Z","u":1.19122,"l":1.19044,"m":1.19083,"tr":"g","g":"g3"},
{"t":"2020-11-26T22:00Z","u":1.19127,"l":1.19068,"m":1.19098,"tr":"g","g":"g3"},
{"t":"2020-11-27T00:00Z","u":1.19122,"l":1.19083,"m":1.19103,"tr":"g","g":"g3"},
{"t":"2020-11-27T02:00Z","u":1.19127,"l":1.19088,"m":1.19108,"tr":"g","g":"g3"},
{"t":"2020-11-27T04:00Z","u":1.19132,"l":1.19093,"m":1.19113,"tr":"g","g":"g3"},
{"t":"2020-11-27T06:00Z","u":1.19152,"l":1.19107,"m":1.19130,"tr":"g","g":"g3"},
{"t":"2020-11-27T08:00Z","u":1.19176,"l":1.19142,"m":1.19159,"tr":"g","g":"g3"},
{"t":"2020-11-27T10:00Z","u":1.19201,"l":1.19171,"m":1.19186,"tr":"g","g":"g3"},
{"t":"2020-11-27T11:18Z","u":1.19220,"l":1.19186,"m":1.19203,"tr":"g","g":"g3"},
{"t":"2020-11-27T11:18Z","u":1.19220,"l":1.19186,"m":1.19203,"tr":"r","g":"r4"},
{"t":"2020-11-27T12:00Z","u":1.19235,"l":1.19191,"m":1.19213,"tr":"r","g":"r4"},
{"t":"2020-11-27T12:24Z","u":1.19235,"l":1.19191,"m":1.19213,"tr":"r","g":"r4"},
{"t":"2020-11-27T12:24Z","u":1.19235,"l":1.19191,"m":1.19213,"tr":"g","g":"g4"},
{"t":"2020-11-27T13:54Z","u":1.19240,"l":1.19196,"m":1.19218,"tr":"g","g":"g4"},
{"t":"2020-11-27T13:54Z","u":1.19240,"l":1.19196,"m":1.19218,"tr":"r","g":"r5"},
{"t":"2020-11-27T14:42Z","u":1.19240,"l":1.19201,"m":1.19221,"tr":"r","g":"r5"},
{"t":"2020-11-27T14:42Z","u":1.19240,"l":1.19201,"m":1.19221,"tr":"g","g":"g5"},
{"t":"2020-11-27T16:00Z","u":1.19255,"l":1.19206,"m":1.19231,"tr":"g","g":"g5"},
{"t":"2020-11-27T18:00Z","u":1.19338,"l":1.19270,"m":1.19304,"tr":"g","g":"g5"},
{"t":"2020-11-27T20:00Z","u":1.19417,"l":1.19353,"m":1.19385,"tr":"g","g":"g5"},
{"t":"2020-11-27T22:00Z","u":1.19481,"l":1.19427,"m":1.19454,"tr":"g","g":"g5"},
{"t":"2020-11-27T23:45Z","u":1.19530,"l":1.19481,"m":1.19506,"tr":"g","g":"g5"}
],
"ln":[
{"t":"2020-11-24T14:00Z","e2":0.0072,"d2":0.0046,"e3":0.0062,"d3":0.0028},
{"t":"2020-11-24T16:00Z","e2":0.0079,"d2":0.0046,"e3":0.0069,"d3":0.0028},
{"t":"2020-11-24T18:00Z","e2":0.0072,"d2":0.0039,"e3":0.0062,"d3":0.0028},
{"t":"2020-11-24T20:00Z","e2":0.0066,"d2":0.0039,"e3":0.0055,"d3":0.0021},
{"t":"2020-11-24T22:00Z","e2":0.0066,"d2":0.0039,"e3":0.0055,"d3":0.0021},
{"t":"2020-11-25T00:00Z","e2":0.0072,"d2":0.0039,"e3":0.0062,"d3":0.0021},
{"t":"2020-11-25T02:00Z","e2":0.0059,"d2":0.0033,"e3":0.0048,"d3":0.0021},
{"t":"2020-11-25T04:00Z","e2":0.0053,"d2":0.0033,"e3":0.0048,"d3":0.0021},
{"t":"2020-11-25T06:00Z","e2":0.0046,"d2":0.0033,"e3":0.0041,"d3":0.0021},
{"t":"2020-11-25T08:00Z","e2":0.0059,"d2":0.0033,"e3":0.0048,"d3":0.0021},
{"t":"2020-11-25T10:00Z","e2":0.0066,"d2":0.0039,"e3":0.0062,"d3":0.0028},
{"t":"2020-11-25T12:00Z","e2":0.0072,"d2":0.0039,"e3":0.0069,"d3":0.0028},
{"t":"2020-11-25T14:00Z","e2":0.0086,"d2":0.0039,"e3":0.0076,"d3":0.0028},
{"t":"2020-11-25T16:00Z","e2":0.0079,"d2":0.0039,"e3":0.0069,"d3":0.0028},
{"t":"2020-11-25T18:00Z","e2":0.0072,"d2":0.0039,"e3":0.0062,"d3":0.0021},
{"t":"2020-11-25T20:00Z","e2":0.0066,"d2":0.0033,"e3":0.0055,"d3":0.0021},
{"t":"2020-11-25T22:00Z","e2":0.0053,"d2":0.0033,"e3":0.0048,"d3":0.0021},
{"t":"2020-11-26T00:00Z","e2":0.0046,"d2":0.0033,"e3":0.0041,"d3":0.0021},
{"t":"2020-11-26T02:00Z","e2":0.0039,"d2":0.0026,"e3":0.0035,"d3":0.0021},
{"t":"2020-11-26T04:00Z","e2":0.0039,"d2":0.0026,"e3":0.0035,"d3":0.0021},
{"t":"2020-11-26T06:00Z","e2":0.0039,"d2":0.0026,"e3":0.0035,"d3":0.0021},
{"t":"2020-11-26T08:00Z","e2":0.0046,"d2":0.0026,"e3":0.0041,"d3":0.0021},
{"t":"2020-11-26T10:00Z","e2":0.0059,"d2":0.0033,"e3":0.0055,"d3":0.0021},
{"t":"2020-11-26T12:00Z","e2":0.0086,"d2":0.0039,"e3":0.0083,"d3":0.0028},
{"t":"2020-11-26T14:00Z","e2":0.0099,"d2":0.0039,"e3":0.0090,"d3":0.0028},
{"t":"2020-11-26T16:00Z","e2":0.0086,"d2":0.0039,"e3":0.0076,"d3":0.0028},
{"t":"2020-11-26T18:00Z","e2":0.0072,"d2":0.0039,"e3":0.0062,"d3":0.0028},
{"t":"2020-11-26T20:00Z","e2":0.0066,"d2":0.0033,"e3":0.0055,"d3":0.0021},
{"t":"2020-11-26T22:00Z","e2":0.0072,"d2":0.0033,"e3":0.0055,"d3":0.0021},
{"t":"2020-11-27T00:00Z","e2":0.0066,"d2":0.0033,"e3":0.0055,"d3":0.0021},
{"t":"2020-11-27T02:00Z","e2":0.0053,"d2":0.0033,"e3":0.0048,"d3":0.0021},
{"t":"2020-11-27T04:00Z","e2":0.0046,"d2":0.0026,"e3":0.0041,"d3":0.0021},
{"t":"2020-11-27T06:00Z","e2":0.0046,"d2":0.0026,"e3":0.0041,"d3":0.0021},
{"t":"2020-11-27T08:00Z","e2":0.0039,"d2":0.0026,"e3":0.0035,"d3":0.0021},
{"t":"2020-11-27T10:00Z","e2":0.0039,"d2":0.0026,"e3":0.0035,"d3":0.0021},
{"t":"2020-11-27T12:00Z","e2":0.0039,"d2":0.0026,"e3":0.0035,"d3":0.0021},
{"t":"2020-11-27T14:00Z","e2":0.0039,"d2":0.0026,"e3":0.0035,"d3":0.0021},
{"t":"2020-11-27T16:00Z","e2":0.0046,"d2":0.0026,"e3":0.0041,"d3":0.0021},
{"t":"2020-11-27T18:00Z","e2":0.0059,"d2":0.0033,"e3":0.0055,"d3":0.0021},
{"t":"2020-11-27T20:00Z","e2":0.0072,"d2":0.0033,"e3":0.0062,"d3":0.0028},
{"t":"2020-11-27T22:00Z","e2":0.0079,"d2":0.0039,"e3":0.0062,"d3":0.0028},
{"t":"2020-11-27T23:45Z","e2":0.0079,"d2":0.0039,"e3":0.0062,"d3":0.0028}
]
},
"vconcat":[
{
 "width":773,"height":272,
 "resolve":{"scale":{"color":"independent"}},
 "layer":[
  {"data":{"name":"c"},"mark":{"type":"rule","strokeWidth":1},
   "encoding":{
    "x":{"field":"t","type":"temporal","scale":{"domain":[1606226520000,1606523340000]},
     "axis":{"orient":"bottom","tickCount":60,"values":[1606227300000,1606241700000,1606256100000,1606270500000,1606284900000,1606299300000,1606313700000,1606328100000,1606342500000,1606356900000,1606371300000,1606385700000,1606400100000,1606414500000,1606428900000,1606443300000,1606457700000,1606472100000,1606486500000,1606500900000,1606515300000],"labels":false,"ticks":false,"grid":true}},
    "y":{"field":"l","type":"quantitative","scale":{"domain":[1.1837,1.19707],"zero":false,"nice":false},
     "axis":{"orient":"right","tickCount":60,"values":[1.1838,1.18475,1.1857,1.18665,1.1876,1.18855,1.1895,1.19045,1.1914,1.19235,1.1933,1.19425,1.1952,1.19615],"format":".5f","grid":true,"ticks":true,"tickSize":2,"labelPadding":1}},
    "y2":{"field":"h"},
    "color":{"field":"s","type":"nominal","scale":{"domain":["g","r","n"],"range":["#22c922","#ff0000","#c4c4c4"]},"legend":null}}},
  {"data":{"name":"c"},"mark":{"type":"bar","width":3.5},
   "encoding":{
    "x":{"field":"t","type":"temporal"},
    "y":{"field":"o","type":"quantitative"},
    "y2":{"field":"c"},
    "color":{"field":"s","type":"nominal","scale":{"domain":["g","r","n"],"range":["#22c922","#ff0000","#c4c4c4"]},"legend":null}}},
  {"data":{"name":"bd"},"mark":{"type":"line","strokeWidth":1.3},
   "encoding":{
    "x":{"field":"t","type":"temporal"},
    "y":{"field":"u","type":"quantitative"},
    "detail":{"field":"g"},
    "color":{"field":"tr","type":"nominal","scale":{"domain":["g","r"],"range":["#3ee03e","#e8203c"]},"legend":null}}},
  {"data":{"name":"bd"},"mark":{"type":"line","strokeWidth":1.3},
   "encoding":{
    "x":{"field":"t","type":"temporal"},
    "y":{"field":"l","type":"quantitative"},
    "detail":{"field":"g"},
    "color":{"field":"tr","type":"nominal","scale":{"domain":["g","r"],"range":["#3ee03e","#e8203c"]},"legend":null}}},
  {"data":{"name":"bd"},"mark":{"type":"line","strokeWidth":1,"color":"#a8a8a8","strokeDash":[3,3]},
   "encoding":{
    "x":{"field":"t","type":"temporal"},
    "y":{"field":"m","type":"quantitative"}}},
  {"mark":{"type":"rule","color":"#8a2b8a","strokeWidth":1},
   "encoding":{"y":{"datum":1.19588}}},
  {"data":{"values":[{"t":"2020-11-25T03:02Z","t2":"2020-11-25T07:06Z","p1":1.19643,"p2":1.19579}]},
   "mark":{"type":"rect","fill":"#5a5a5a","stroke":"#8c8c8c","strokeWidth":1},
   "encoding":{"x":{"field":"t","type":"temporal"},"x2":{"field":"t2"},"y":{"field":"p1","type":"quantitative"},"y2":{"field":"p2"}}},
  {"data":{"values":[{"t":"2020-11-25T05:04Z","p":1.19611,"txt":"ACC on"}]},
   "mark":{"type":"text","color":"#e8e8e8","fontSize":8,"align":"center","baseline":"middle"},
   "encoding":{"x":{"field":"t","type":"temporal"},"y":{"field":"p","type":"quantitative"},"text":{"field":"txt"}}},
  {"data":{"values":[{"t":"2020-11-24T14:02Z","p":1.19707,"txt":"▼ EURUSD,M15 1.19591 1.19612 1.19586 1.19588"}]},
   "mark":{"type":"text","color":"#e6e6e6","fontSize":6.8,"align":"left","baseline":"top","dx":3,"dy":3},
   "encoding":{"x":{"field":"t","type":"temporal"},"y":{"field":"p","type":"quantitative"},"text":{"field":"txt"}}},
  {"data":{"values":[{"t":"2020-11-28T00:29Z","t2":"2020-11-28T03:10Z","p1":1.19605,"p2":1.19572}]},
   "mark":{"type":"rect","fill":"#ffffff"},
   "encoding":{"x":{"field":"t","type":"temporal"},"x2":{"field":"t2"},"y":{"field":"p1","type":"quantitative"},"y2":{"field":"p2"}}},
  {"data":{"values":[{"t":"2020-11-28T00:29Z","p":1.19589,"txt":"1.19588"}]},
   "mark":{"type":"text","color":"#000000","fontSize":6,"align":"left","baseline":"middle","dx":2},
   "encoding":{"x":{"field":"t","type":"temporal"},"y":{"field":"p","type":"quantitative"},"text":{"field":"txt"}}}
 ]
},
{
 "width":773,"height":60,
 "layer":[
  {"data":{"name":"c"},"mark":{"type":"bar","width":4},
   "encoding":{
    "x":{"field":"t","type":"temporal","scale":{"domain":[1606226520000,1606523340000]},
     "axis":{"orient":"bottom","tickCount":60,"values":[1606227300000,1606241700000,1606256100000,1606270500000,1606284900000,1606299300000,1606313700000,1606328100000,1606342500000,1606356900000,1606371300000,1606385700000,1606400100000,1606414500000,1606428900000,1606443300000,1606457700000,1606472100000,1606486500000,1606500900000,1606515300000],"labels":false,"ticks":false,"grid":true}},
    "y":{"field":"a","type":"quantitative","scale":{"domain":[0,0.0395],"nice":false},
     "axis":{"orient":"right","values":[0.036,0.0016],"labelExpr":"datum.value > 0.01 ? '0.036' : '0.0016'","grid":false,"ticks":true,"tickSize":2,"labelPadding":1}},
    "color":{"field":"ac","type":"nominal","scale":{"domain":["G","g","R","r"],"range":["#3ccc3c","#1f8f1f","#ff1010","#a80000"]},"legend":null}}},
  {"data":{"name":"ln"},"mark":{"type":"line","color":"#d4a017","strokeWidth":1},
   "encoding":{"x":{"field":"t","type":"temporal"},"y":{"field":"e2","type":"quantitative"}}},
  {"data":{"name":"ln"},"mark":{"type":"line","color":"#2846ff","strokeWidth":1},
   "encoding":{"x":{"field":"t","type":"temporal"},"y":{"field":"d2","type":"quantitative"}}},
  {"data":{"values":[{"t":"2020-11-24T14:02Z","p":0.0395,"txt":"M30 WaddahAttarExplosion of EMAD (20,40,21)"}]},
   "mark":{"type":"text","color":"#e6e6e6","fontSize":6.3,"align":"left","baseline":"top","dx":2,"dy":2},
   "encoding":{"x":{"field":"t","type":"temporal"},"y":{"field":"p","type":"quantitative"},"text":{"field":"txt"}}}
 ]
},
{
 "width":773,"height":57,
 "layer":[
  {"data":{"name":"c"},"mark":{"type":"bar","width":4},
   "encoding":{
    "x":{"field":"t","type":"temporal","scale":{"domain":[1606226520000,1606523340000]},
     "axis":{"orient":"bottom","tickCount":60,"values":[1606227300000,1606241700000,1606256100000,1606270500000,1606284900000,1606299300000,1606313700000,1606328100000,1606342500000,1606356900000,1606371300000,1606385700000,1606400100000,1606414500000,1606428900000,1606443300000,1606457700000,1606472100000,1606486500000,1606500900000,1606515300000],
      "labelExpr":"time(datum.value) < 1606230000000 ? '24 Nov 2020' : utcFormat(datum.value, '%d %b %H:%M')",
      "labelAlign":"left","labelOverlap":false,"labelBound":false,"labels":true,"ticks":true,"tickSize":3,"labelPadding":1,"labelFontSize":5.6,"grid":true}},
    "y":{"field":"b","type":"quantitative","scale":{"domain":[0,0.0394],"nice":false},
     "axis":{"orient":"right","values":[0.037,0.0018],"labelExpr":"datum.value > 0.01 ? '0.037' : '0.0018'","grid":false,"ticks":true,"tickSize":2,"labelPadding":1}},
    "color":{"field":"bc","type":"nominal","scale":{"domain":["G","g","R","r"],"range":["#3ccc3c","#1f8f1f","#ff1010","#a80000"]},"legend":null}}},
  {"data":{"name":"ln"},"mark":{"type":"line","color":"#d4a017","strokeWidth":1},
   "encoding":{"x":{"field":"t","type":"temporal"},"y":{"field":"e3","type":"quantitative"}}},
  {"data":{"name":"ln"},"mark":{"type":"line","color":"#2846ff","strokeWidth":1},
   "encoding":{"x":{"field":"t","type":"temporal"},"y":{"field":"d3","type":"quantitative"}}},
  {"data":{"values":[{"t":"2020-11-24T14:02Z","p":0.0394,"txt":"M15 WaddahAttarExplosion of EMAD (20,40,21)"}]},
   "mark":{"type":"text","color":"#e6e6e6","fontSize":6.3,"align":"left","baseline":"top","dx":2,"dy":2},
   "encoding":{"x":{"field":"t","type":"temporal"},"y":{"field":"p","type":"quantitative"},"text":{"field":"txt"}}}
 ]
}
]
}
